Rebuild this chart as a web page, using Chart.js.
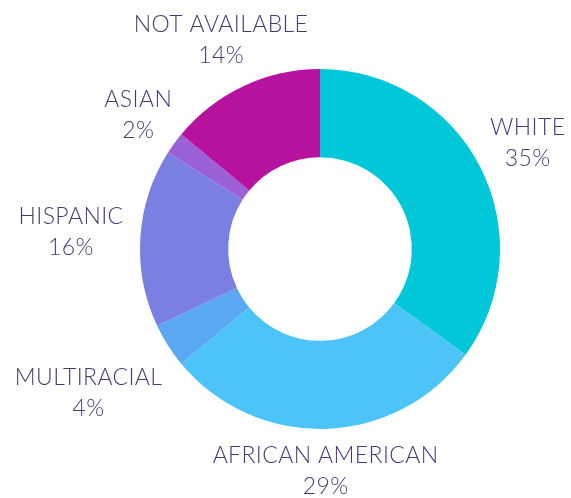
<!DOCTYPE html>
<html>
<head>
<meta charset="utf-8">
<script src="https://cdn.jsdelivr.net/npm/chart.js@4"></script>
<style>
    html, body { margin: 0; padding: 0; background: #fff; }
    #wrap { width: 571px; height: 498px; position: relative; }
</style>
</head>
<body>
<div id="wrap"><canvas id="ethnicity-chart"></canvas></div>
<script>
// Chart data
const labels = ['WHITE', 'AFRICAN AMERICAN', 'MULTIRACIAL', 'HISPANIC', 'ASIAN', 'NOT AVAILABLE'];
const percents = [35, 29, 4, 16, 2, 14];
const colors = ['#00c8d8', '#4cc4f7', '#5aa8f1', '#7a7fe1', '#9a60d5', '#b7129e'];

// Per-label fine tuning of the outside labels (dx, dy in px)
const labelNudges = [[3, -10], [-4, 7], [-7, 29], [-5, -4], [1, -9], [20, -16]];

// Draws the two-line category / percent labels outside the ring
const outsideLabels = {
    id: 'outsideLabels',
    afterDatasetsDraw(chart, args, opts) {
        const ctx = chart.ctx;
        const meta = chart.getDatasetMeta(0);
        const size = opts.fontSize;
        ctx.save();
        ctx.font = `${opts.fontWeight} ${size}px ${opts.fontFamily}`;
        if ('letterSpacing' in ctx) ctx.letterSpacing = opts.letterSpacing;
        ctx.fillStyle = opts.color;
        ctx.textAlign = 'center';
        ctx.textBaseline = 'alphabetic';
        meta.data.forEach((arc, i) => {
            const p = arc.getProps(['x', 'y', 'startAngle', 'endAngle', 'outerRadius'], true);
            const mid = (p.startAngle + p.endAngle) / 2;
            const cos = Math.cos(mid), sin = Math.sin(mid);
            const r = p.outerRadius + opts.gap;
            const name = chart.data.labels[i];
            const halfW = ctx.measureText(name).width / 2;
            const nudge = labelNudges[i] || [0, 0];
            const cx = p.x + r * cos + halfW * cos + nudge[0];
            const cy = p.y + r * sin + opts.halfHeight * sin + nudge[1];
            const shift = size * 0.36;
            ctx.fillText(name, cx, cy - opts.lineGap / 2 + shift);
            ctx.fillText(chart.data.datasets[0].data[i] + '%', cx, cy + opts.lineGap / 2 + shift);
        });
        ctx.restore();
    }
};

const ctx = document.getElementById('ethnicity-chart').getContext('2d');

new Chart(ctx, {
    type: 'doughnut',
    data: {
        labels: labels,
        datasets: [{
            data: percents,
            backgroundColor: colors,
            borderWidth: 0
        }]
    },
    options: {
        responsive: true,
        maintainAspectRatio: false,
        animation: false,
        cutout: '51%',
        layout: { padding: { top: 69, bottom: 69, left: 140, right: 71 } },
        plugins: {
            legend: { display: false },
            tooltip: { enabled: false },
            outsideLabels: {
                fontSize: 23,
                fontWeight: 300,
                fontFamily: 'Lato, "Open Sans", sans-serif',
                letterSpacing: '0.4px',
                color: '#4a3876',
                gap: 12,
                halfHeight: 22,
                lineGap: 31
            }
        }
    },
    plugins: [outsideLabels]
});
</script>
</body>
</html>
